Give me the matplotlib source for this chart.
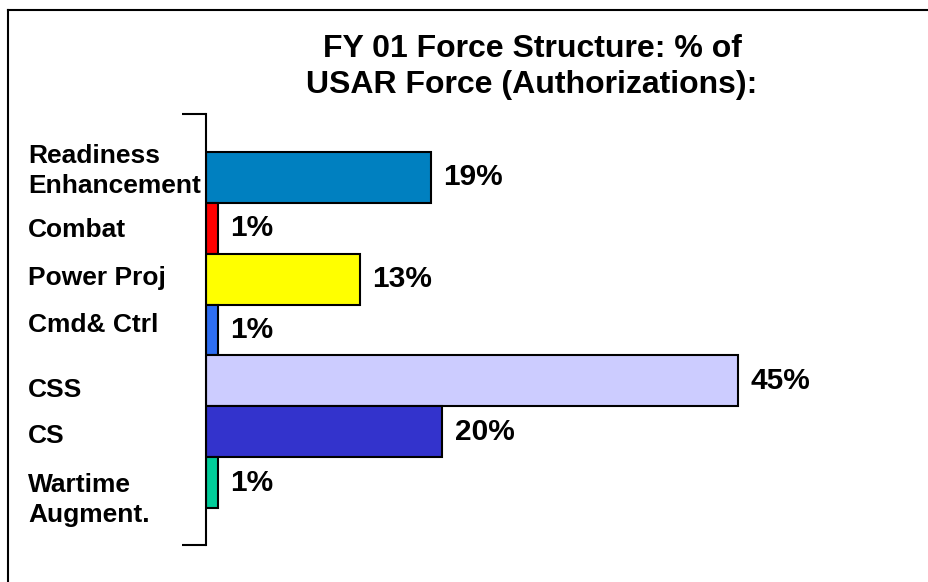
import matplotlib
matplotlib.use("Agg")
import matplotlib.pyplot as plt
from matplotlib.lines import Line2D
import matplotlib.transforms as mtransforms

plt.rcParams['font.family'] = ['Liberation Sans', 'DejaVu Sans']
plt.rcParams['font.weight'] = 'bold'

categories = ["Readiness\nEnhancement", "Combat", "Power Proj", "Cmd& Ctrl",
              "CSS", "CS", "Wartime\nAugment."]
values = [19, 1, 13, 1, 45, 20, 1]
value_labels = ["19%", "1%", "13%", "1%", "45%", "20%", "1%"]
colors = ["#0080C0", "#FF0000", "#FFFF00", "#2E6EF2", "#CCCCFF", "#3333CC", "#00CC99"]

# small vertical nudges of the category labels (data units), as in the original slide
label_nudge = [-0.12, 0.04, -0.02, -0.1, 0.18, 0.08, 0.35]

fig = plt.figure(figsize=(9.29, 5.82), dpi=100)
ax = fig.add_axes([206 / 929, 1 - 545 / 582, 694 / 929, 431 / 582])

ypos = list(range(len(categories)))
ax.barh(ypos, values, height=1.0, color=colors, edgecolor="black", linewidth=1.5)

ax.set_xlim(0, 58.7)
ax.set_ylim(7.227, -1.247)

for y, v, lab in zip(ypos, values, value_labels):
    ax.annotate(lab, (v, y), xytext=(9, 0), textcoords="offset points",
                ha="left", va="center", fontsize=21.5, fontweight="bold")

trans = mtransforms.blended_transform_factory(fig.transFigure, ax.transData)
for y, cat, dy in zip(ypos, categories, label_nudge):
    ax.text(28 / 929, y + dy, cat, transform=trans, ha="left", va="center",
            fontsize=19, fontweight="bold", linespacing=1.32, clip_on=False)

for side in ["top", "right", "bottom"]:
    ax.spines[side].set_visible(False)
ax.spines["left"].set_linewidth(1.5)
ax.set_xticks([])
ax.set_yticks([7.227, -1.247])
ax.set_yticklabels([])
ax.tick_params(axis="y", length=17, width=1.5, direction="out")

fig.text(532 / 929, 1 - 67 / 582, "FY 01 Force Structure: % of\nUSAR Force (Authorizations):",
         ha="center", va="center", fontsize=23, fontweight="bold", linespacing=1.3)

# slide frame (left and top edges)
fig.add_artist(Line2D([8 / 929, 8 / 929], [0, 1 - 10 / 582], transform=fig.transFigure,
                      color="black", linewidth=1.5))
fig.add_artist(Line2D([8 / 929, 928 / 929], [1 - 10 / 582, 1 - 10 / 582],
                      transform=fig.transFigure, color="black", linewidth=1.5))

fig.savefig("out.png", dpi=100)
